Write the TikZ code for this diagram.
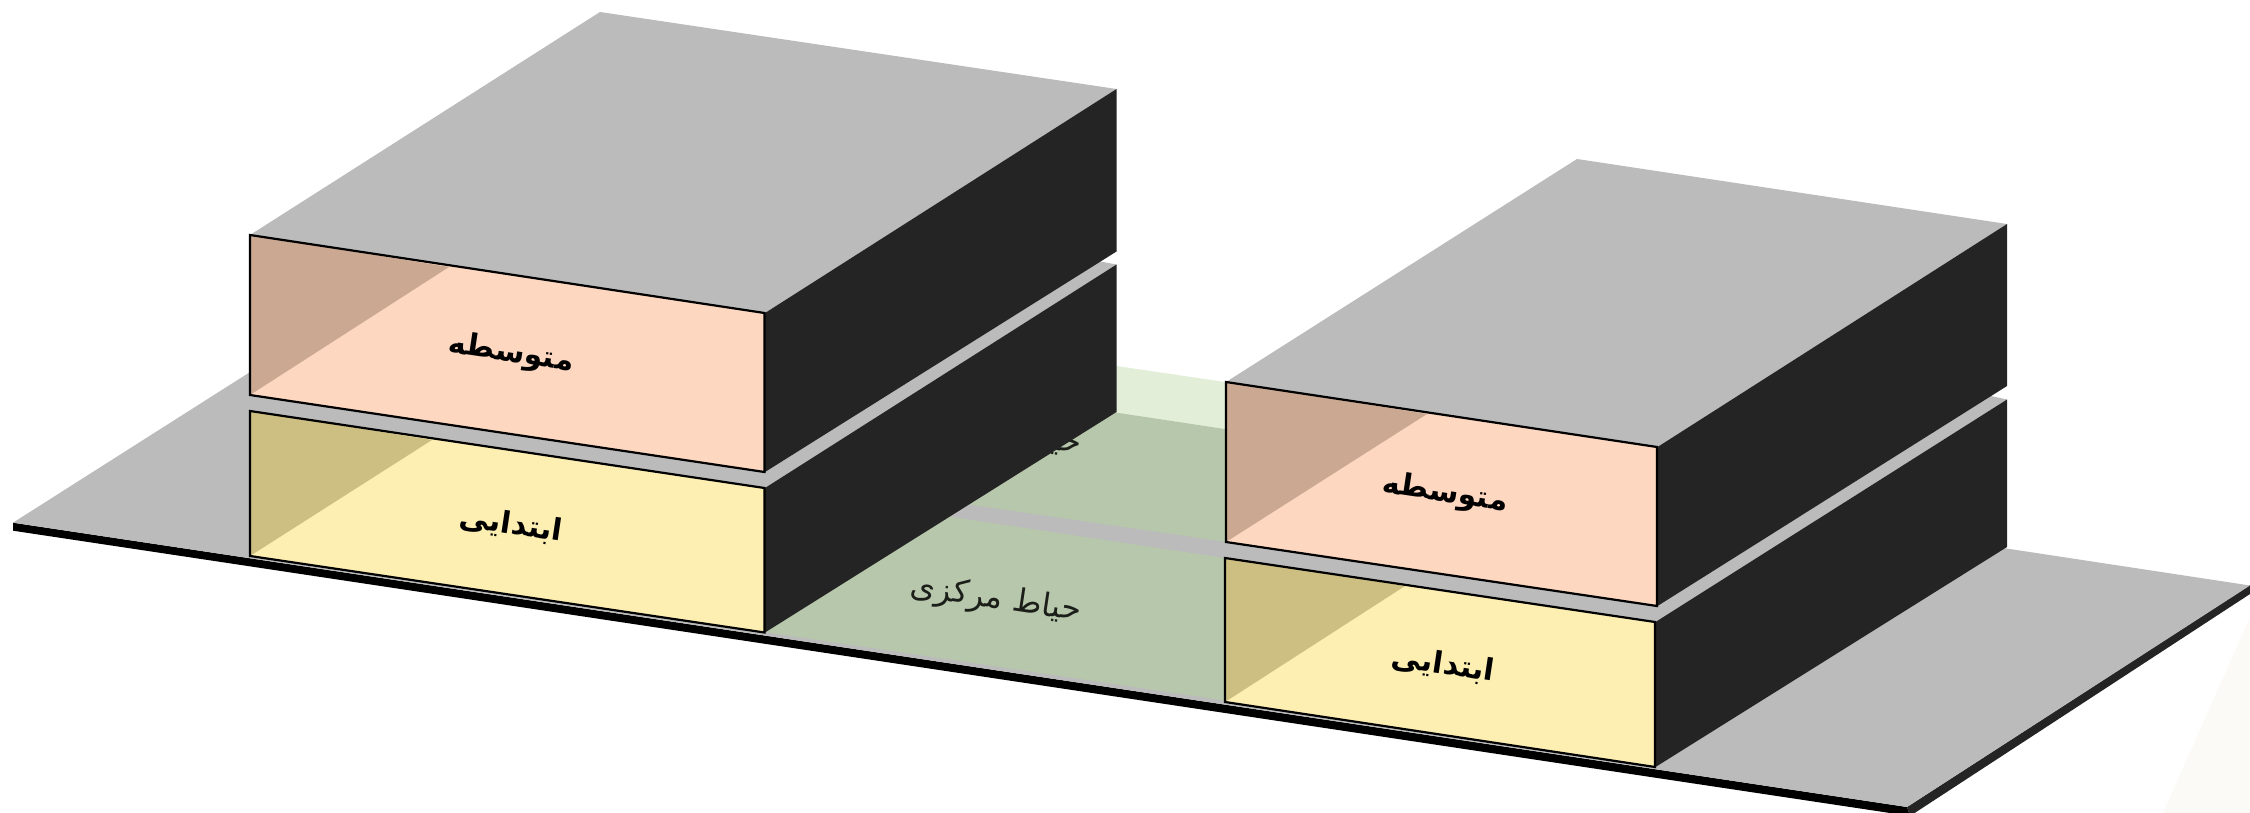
\documentclass[tikz,border=0pt]{standalone}
\usepackage{fontspec}
\TeXXeTstate=1
\newfontfamily\arabicfont[Script=Arabic]{DejaVu Sans}
\definecolor{roofgray}{HTML}{BBBBBB}
\definecolor{sidedark}{HTML}{242424}
\definecolor{peach}{HTML}{FDD7C0}
\definecolor{peachshade}{HTML}{CBA892}
\definecolor{lemon}{HTML}{FDEEB2}
\definecolor{lemonshade}{HTML}{CDBF82}
\definecolor{yarddark}{HTML}{B7C7AC}
\definecolor{yardlight}{HTML}{E2EED8}
\definecolor{tint}{HTML}{FBFAF7}
\tikzset{
  roof/.style={fill=roofgray,draw=none},
  side/.style={fill=sidedark,draw=none},
  frontedge/.style={draw=black,line width=2.2pt,line join=miter,fill=none},
  label/.style={font=\arabicfont\bfseries\fontsize{30}{33}\selectfont,rotate=-8.5,inner sep=0pt},
  yardlabel/.style={font=\arabicfont\fontsize{32}{35}\selectfont,rotate=-8.5,inner sep=0pt,text=black!85!yarddark},
}
\begin{document}
\begin{tikzpicture}[x=1pt,y=-1pt]
\useasboundingbox (0,0) rectangle (2250,813);
\clip (0,0) rectangle (2250,813);
% faint tint
\fill[tint] (2250,617) -- (2163,813) -- (2250,813) -- cycle;
% floor edge
\fill[black] (13,522.7) -- (1907,807) -- (1910,816) -- (13,530.7) -- cycle;
\fill[sidedark] (1907,807) -- (2250,585) -- (2250,594) -- (1910,816) -- cycle;
% floor
\fill[roofgray] (13,522.7) -- (365,299) -- (2250,585.5) -- (1907,807) -- cycle;
% courtyard
\fill[yardlight] (900,334) -- (1225,382) -- (1225,429) -- (900,381) -- cycle;
\fill[yarddark] (860,374) -- (1225,429) -- (1225,542) -- (860,489) -- cycle;
\fill[yarddark] (765,632) -- (860,503) -- (1225,558) -- (1225,700.5) -- cycle;
\fill[roofgray] (860,489) -- (1227,542) -- (1227,558) -- (860,503) -- cycle;
\node[yardlabel] (yardback) at (996,433) {\beginR حیاط مرکزی\endR};
\node[yardlabel] (yardfront) at (996,600) {\beginR حیاط مرکزی\endR};
% left building
\fill[roof] (250,235) -- (600,12) -- (1116.5,89) -- (765,313) -- cycle;
\fill[roof] (765,472) -- (1100,261.5) -- (1116.5,264.5) -- (765,488) -- cycle;
\fill[side] (765,313) -- (1116.5,89) -- (1116.5,251.5) -- (765,472) -- cycle;
\fill[side] (765,488) -- (1116.5,264.5) -- (1116.5,412) -- (765,632.5) -- cycle;
\fill[peach] (250,235) -- (764.5,313) -- (764.5,472) -- (250,395) -- cycle;
\fill[peachshade] (250,235) -- (449,267) -- (250,395) -- cycle;
\draw[frontedge] (250,235) -- (764.5,313) -- (764.5,472) -- (250,395) -- cycle;
\fill[lemon] (250,411) -- (764.5,488) -- (764.5,632.5) -- (250,556) -- cycle;
\fill[lemonshade] (250,411) -- (432,440) -- (250,556) -- cycle;
\draw[frontedge] (250,411) -- (764.5,488) -- (764.5,632.5) -- (250,556) -- cycle;
\node[label] (midL) at (511,354) {\beginR متوسطه\endR};
\node[label] (elemL) at (511,525) {\beginR ابتدایی\endR};
% right building
\fill[roof] (1226,382) -- (1577,159) -- (2007,224) -- (1657.5,447) -- cycle;
\fill[roof] (1657.5,606) -- (1991,396) -- (2007,399.5) -- (1655.5,622) -- cycle;
\fill[side] (1657.5,447) -- (2007,224) -- (2007,386) -- (1657.5,606) -- cycle;
\fill[side] (1655.5,622) -- (2007,399.5) -- (2007,547) -- (1655.5,767) -- cycle;
\fill[peach] (1226,382) -- (1657,447) -- (1657,606) -- (1226,542) -- cycle;
\fill[peachshade] (1226,382) -- (1427,414) -- (1226,542) -- cycle;
\draw[frontedge] (1226,382) -- (1657,447) -- (1657,606) -- (1226,542) -- cycle;
\fill[lemon] (1225,558) -- (1655,622) -- (1655,767) -- (1225,702) -- cycle;
\fill[lemonshade] (1225,558) -- (1405,586) -- (1225,702) -- cycle;
\draw[frontedge] (1225,558) -- (1655,622) -- (1655,767) -- (1225,702) -- cycle;
\node[label] (midR) at (1445,494) {\beginR متوسطه\endR};
\node[label] (elemR) at (1443,665) {\beginR ابتدایی\endR};
\end{tikzpicture}
\end{document}
